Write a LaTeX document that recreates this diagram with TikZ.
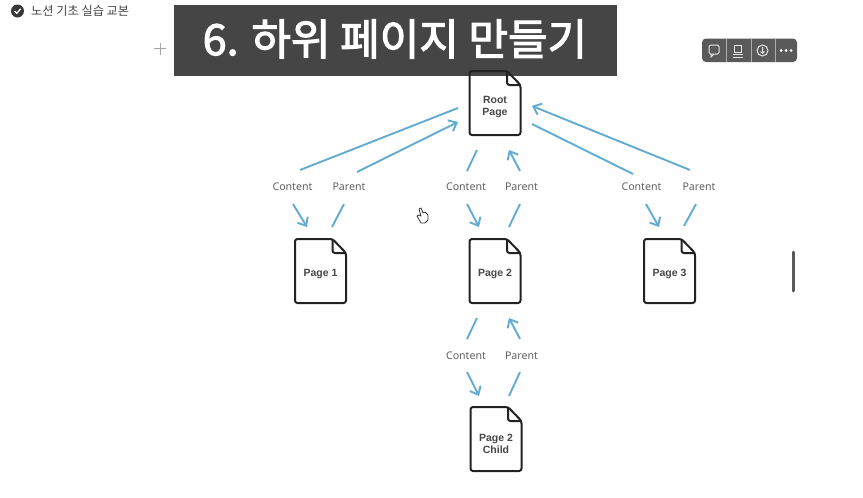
\documentclass[tikz,border=0pt]{standalone}
\usepackage{fontspec}
\setmainfont{Noto Sans}
\newfontfamily\krfont{Noto Sans CJK KR}
\newfontfamily\docfont{Liberation Sans}
\usetikzlibrary{arrows.meta}
\definecolor{flow}{HTML}{62ABD2}
\definecolor{ink}{HTML}{222222}
\definecolor{banner}{HTML}{454545}
\definecolor{tool}{HTML}{5A5A5A}
\tikzset{
  docbox/.style={minimum width=51pt,minimum height=64pt,inner sep=0pt,align=center,
    text depth=0pt,font=\docfont\fontsize{10.5}{12}\selectfont\bfseries,text=black!72},
  docline/.style={draw=ink,line width=2pt,line join=round},
  lab/.style={font=\fontsize{10.6}{12}\selectfont,text=black!62,inner sep=0pt},
  seg/.style={draw=flow,line width=1.9pt},
  arr/.style={seg,-{Straight Barb[length=7pt,width=12pt,line width=1.9pt]}},
  toolicon/.style={draw=white!90!black,line width=1pt},
}
\newcommand{\docoutline}[1]{%
  \begin{scope}[shift={(#1.center)}]
    \draw[docline,rounded corners=2.5pt] (-25.5,-32) -- (12,-32) -- (25.5,-18) -- (25.5,32) -- (-25.5,32) -- cycle;
    \draw[docline,rounded corners=2.5pt] (12,-32) -- (12,-18) -- (25.5,-18);
  \end{scope}}
\begin{document}
\begin{tikzpicture}[x=1pt,y=-1pt]
\useasboundingbox (0,0) rectangle (863,498);
\fill[white] (0,0) rectangle (863,498);
% header
\fill[black!78] (17.5,11) circle (6.5);
\draw[white,line width=1.3pt] (14.5,11) -- (16.8,13.3) -- (20.6,8.8);
\node[anchor=west,inner sep=0pt,font=\krfont\fontsize{12.2}{14}\selectfont,text=black!72] (doctitle) at (31,11) {노션 기초 실습 교본};
\draw[black!35,line width=1pt] (154,48.5) -- (166,48.5) (160,42.5) -- (160,54.5);
% banner
\fill[banner] (174,5) rectangle (617,76);
\node[font=\krfont\fontsize{43}{48}\selectfont,text=white,inner sep=0pt] (banner) at (395,39) {\addfontfeature{FakeBold=2.5}6. 하위 페이지 만들기};
% toolbar
\fill[tool,rounded corners=4pt] (702,38.5) rectangle (797,62);
\draw[white!50!tool,line width=.4pt] (726,38.5) -- (726,62) (751,38.5) -- (751,62) (775,38.5) -- (775,62);
\draw[toolicon,rounded corners=1.5pt] (709,45) rectangle (719,54);
\draw[toolicon] (711,54) -- (711,57) -- (714,54);
\draw[toolicon] (734,45) rectangle (741,52);
\draw[toolicon] (733,54) -- (743,54) (733,57) -- (743,57);
\draw[toolicon] (762.5,50.5) circle (5.5);
\draw[toolicon] (762.5,47) -- (762.5,53) (760.5,51.5) -- (762.5,53.5) -- (764.5,51.5);
\fill[white] (781,50.5) circle (1.5) (786,50.5) circle (1.5) (791,50.5) circle (1.5);
% scrollbar
\draw[black!65,line width=3pt,line cap=round] (793,252) -- (793,291);
% cursor
\draw[black!80,fill=white,line width=.8pt,line join=round] (419,209) -- (421,208) -- (423,213) -- (425,212) -- (428,215) -- (428,220) -- (425,223) -- (421,223) -- (417,216) -- (419,215) -- (421,216) -- cycle;
% documents
\node[docbox] (root) at (495,106) {Root\\Page};
\node[docbox] (p1) at (320.5,273) {Page 1};
\node[docbox] (p2) at (495,273) {Page 2};
\node[docbox] (p3) at (669.5,273) {Page 3};
\node[docbox] (child) at (496,444) {Page 2\\Child};
\coordinate (rootc) at (495,103);
\coordinate (p1c) at (320.5,271);
\coordinate (p2c) at (495,271);
\coordinate (p3c) at (669.5,271);
\coordinate (childc) at (496,439);
\docoutline{rootc}\docoutline{p1c}\docoutline{p2c}\docoutline{p3c}\docoutline{childc}
% labels
\node[lab] (c1) at (292.5,187) {Content};
\node[lab] (r1) at (349,187) {Parent};
\node[lab] (c2) at (466,187) {Content};
\node[lab] (r2) at (521.5,187) {Parent};
\node[lab] (c3) at (641.5,187) {Content};
\node[lab] (r3) at (699,187) {Parent};
\node[lab] (c4) at (466,355.5) {Content};
\node[lab] (r4) at (521.5,355.5) {Parent};
% free ends of the connector pieces
\foreach \n/\x/\y in {a1/458/108,a2/300/170,a3/293/204,a4/307/227,
  b1/332/227,b2/344/204,b3/357/172,b4/458/122,
  d1/477/150,d2/467/171,d3/467/204,d4/479/227,
  e1/509/227,e2/520/204,e3/520/171,e4/509/150,
  f1/532/124,f2/633/174,f3/646/204,f4/659/227,
  g1/684/226,g2/696/204,g3/690/170,g4/532/106,
  h1/477/318,h2/467/339,h3/467/372,h4/479/396,
  i1/509/396,i2/520/372,i3/520/339,i4/509/318}
  {\coordinate (\n) at (\x,\y);}
\draw[seg] (a1) -- (a2); \draw[arr] (a3) -- (a4);
\draw[seg] (b1) -- (b2); \draw[arr] (b3) -- (b4);
\draw[seg] (d1) -- (d2); \draw[arr] (d3) -- (d4);
\draw[seg] (e1) -- (e2); \draw[arr] (e3) -- (e4);
\draw[seg] (f1) -- (f2); \draw[arr] (f3) -- (f4);
\draw[seg] (g1) -- (g2); \draw[arr] (g3) -- (g4);
\draw[seg] (h1) -- (h2); \draw[arr] (h3) -- (h4);
\draw[seg] (i1) -- (i2); \draw[arr] (i3) -- (i4);
\end{tikzpicture}
\end{document}
